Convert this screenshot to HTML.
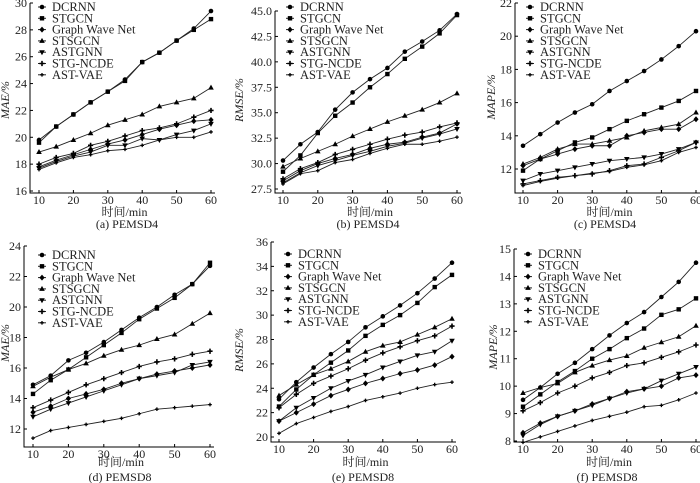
<!DOCTYPE html>
<html><head><meta charset="utf-8"><style>
html,body{margin:0;padding:0;background:#fff}
svg{display:block}
svg text{font-family:"Liberation Serif","Noto Serif CJK SC",serif}
</style></head><body>
<svg id="chart" width="700" height="483" viewBox="0 0 700 483" xmlns="http://www.w3.org/2000/svg"></svg>
<script>
const seriesNames = ["DCRNN","STGCN","Graph Wave Net","STSGCN","ASTGNN","STG-NCDE","AST-VAE"];
const xCategories = [10,15,20,25,30,35,40,45,50,55,60];
const xTicks = [10,20,30,40,50,60];

const aDCRNN=[19.8,20.8,21.7,22.6,23.4,24.3,25.6,26.3,27.2,28.1,29.4];
const aSTGCN=[19.6,20.8,21.7,22.6,23.4,24.2,25.6,26.3,27.2,28.0,28.8];
const aGWN=[17.8,18.3,18.7,19.1,19.5,19.8,20.2,20.6,20.9,21.2,21.3];
const aSTSGCN=[18.9,19.3,19.8,20.3,20.9,21.3,21.7,22.3,22.6,22.9,23.7];
const aASTGNN=[17.7,18.2,18.6,18.9,19.4,19.4,19.9,19.8,20.2,20.5,21.0];
const aNCDE=[18.0,18.5,18.8,19.4,19.7,20.1,20.5,20.7,21.0,21.5,22.0];
const aVAE=[17.6,18.1,18.5,18.7,19.0,19.1,19.4,19.8,20.0,20.0,20.4];
const aTicks=[16,18,20,22,24,26,28,30];

const bDCRNN=[30.3,31.9,33.1,35.3,37.0,38.3,39.4,41.0,42.0,43.1,44.7];
const bSTGCN=[29.2,30.8,33.0,34.7,36.0,37.5,38.8,40.3,41.5,42.8,44.6];
const bGWN=[28.3,29.3,30.0,30.5,30.9,31.5,31.9,32.1,32.6,33.0,33.9];
const bSTSGCN=[29.7,30.5,31.2,31.9,32.7,33.4,34.1,34.7,35.3,36.0,36.9];
const bASTGNN=[28.1,29.1,29.8,30.3,30.8,31.2,31.7,32.0,32.5,32.9,33.4];
const bNCDE=[28.5,29.5,30.1,30.9,31.4,31.9,32.4,32.8,33.1,33.6,34.0];
const bVAE=[28.0,29.0,29.3,30.1,30.4,31.0,31.5,31.9,31.9,32.2,32.6];
const bTicks=["27.5","30.0","32.5","35.0","37.5","40.0","42.5","45.0"];

const cDCRNN=[13.4,14.1,14.8,15.4,15.9,16.7,17.3,17.9,18.6,19.4,20.3];
const cSTGCN=[11.9,12.6,13.1,13.6,13.9,14.4,14.9,15.3,15.7,16.1,16.7];
const cGWN=[12.2,12.6,12.9,13.2,13.4,13.4,14.0,14.2,14.4,14.4,15.0];
const cSTSGCN=[12.3,12.7,13.2,13.5,13.5,13.7,13.9,14.3,14.5,14.7,15.4];
const cASTGNN=[11.3,11.7,11.9,12.1,12.3,12.5,12.6,12.7,12.9,13.2,13.6];
const cNCDE=[11.1,11.3,11.5,11.6,11.7,11.9,12.2,12.3,12.7,13.1,13.6];
const cVAE=[11.0,11.25,11.45,11.6,11.75,11.85,12.1,12.25,12.5,13.0,13.3];
const cTicks=[12,14,16,18,20,22];

const dDCRNN=[14.9,15.5,16.5,17.0,17.7,18.5,19.3,20.0,20.8,21.5,22.7];
const dSTGCN=[14.3,15.2,15.9,16.7,17.5,18.3,19.2,19.9,20.6,21.5,22.9];
const dGWN=[13.1,13.5,14.0,14.3,14.6,15.0,15.3,15.6,15.8,16.0,16.2];
const dSTSGCN=[14.8,15.4,15.9,16.3,16.8,17.2,17.5,17.9,18.2,18.9,19.6];
const dASTGNN=[12.8,13.3,13.7,14.1,14.5,14.9,15.3,15.5,15.7,16.2,16.4];
const dNCDE=[13.4,13.9,14.4,14.9,15.3,15.7,16.1,16.4,16.6,16.9,17.1];
const dVAE=[11.4,11.9,12.1,12.3,12.5,12.7,13.0,13.3,13.4,13.5,13.6];
const dTicks=[12,14,16,18,20,22,24];

const eDCRNN=[23.1,24.5,25.7,26.8,27.8,29.0,29.9,30.8,31.8,33.0,34.3];
const eSTGCN=[22.5,23.9,25.1,26.1,27.1,28.3,29.2,30.0,31.0,32.3,33.3];
const eGWN=[21.3,22.0,22.7,23.4,23.9,24.4,24.8,25.2,25.5,25.9,26.6];
const eSTSGCN=[23.4,24.3,25.1,25.6,26.2,27.0,27.5,27.8,28.4,29.0,29.7];
const eASTGNN=[21.3,22.4,23.2,24.0,24.6,25.1,25.7,26.2,26.7,27.0,27.9];
const eNCDE=[22.4,23.5,24.4,25.0,25.6,26.3,26.9,27.4,27.9,28.3,29.1];
const eVAE=[20.3,21.1,21.6,22.1,22.5,23.0,23.3,23.6,24.0,24.3,24.5];
const eTicks=[20,22,24,26,28,30,32,34,36];

const fDCRNN=[9.5,9.95,10.45,10.85,11.35,11.85,12.3,12.7,13.25,13.8,14.5];
const fSTGCN=[9.25,9.7,10.15,10.55,11.0,11.35,11.75,12.1,12.6,12.8,13.2];
const fGWN=[8.3,8.65,8.9,9.1,9.35,9.55,9.8,9.9,10.0,10.3,10.4];
const fSTSGCN=[9.75,9.95,10.1,10.5,10.75,10.95,11.1,11.4,11.6,11.8,12.2];
const fASTGNN=[8.2,8.6,8.9,9.1,9.3,9.55,9.75,9.9,10.2,10.45,10.7];
const fNCDE=[9.1,9.4,9.75,10.0,10.3,10.5,10.75,10.85,11.05,11.25,11.5];
const fVAE=[7.95,8.15,8.35,8.55,8.75,8.9,9.05,9.25,9.3,9.5,9.75];
const fTicks=[8,9,10,11,12,13,14,15];

const NS="http://www.w3.org/2000/svg";
const FONT='"Liberation Serif","Noto Serif CJK SC",serif';
const svg=document.getElementById('chart');
function mk(tag,attrs,parent){const e=document.createElementNS(NS,tag);for(const k in attrs)e.setAttribute(k,attrs[k]);if(tag==='text')e.setAttribute('font-family',FONT);(parent||svg).appendChild(e);return e;}

const panels=[
 {id:"a",series:[aDCRNN,aSTGCN,aGWN,aSTSGCN,aASTGNN,aNCDE,aVAE],ticks:aTicks,ylab:"MAE/%",cap:"(a) PEMSD4",left:30,bottom:193,x0:39,x1:211,v0:16,p0:191,v1:30,p1:3,legX:42,legY:7,ylx:9,yly:100,capx:127,xty:212,capy:224},
 {id:"b",series:[bDCRNN,bSTGCN,bGWN,bSTSGCN,bASTGNN,bNCDE,bVAE],ticks:bTicks,ylab:"RMSE/%",cap:"(b) PEMSD4",left:275,bottom:193,x0:283,x1:457,v0:27.5,p0:189,v1:45,p1:11,legX:290,legY:7,ylx:243,yly:100,capx:368,xty:212,capy:224},
 {id:"c",series:[cDCRNN,cSTGCN,cGWN,cSTSGCN,cASTGNN,cNCDE,cVAE],ticks:cTicks,ylab:"MAPE/%",cap:"(c) PEMSD4",left:515,bottom:193,x0:523,x1:696,v0:12,p0:169,v1:22,p1:3,legX:530,legY:7,ylx:495,yly:97,capx:605,xty:212,capy:224},
 {id:"d",series:[dDCRNN,dSTGCN,dGWN,dSTSGCN,dASTGNN,dNCDE,dVAE],ticks:dTicks,ylab:"MAE/%",cap:"(d) PEMSD8",left:24,bottom:447,x0:33,x1:210,v0:12,p0:429,v1:24,p1:246,legX:42,legY:255,ylx:9,yly:343,capx:120,xty:462,capy:477},
 {id:"e",series:[eDCRNN,eSTGCN,eGWN,eSTSGCN,eASTGNN,eNCDE,eVAE],ticks:eTicks,ylab:"RMSE/%",cap:"(e) PEMSD8",left:271,bottom:442,x0:279,x1:452,v0:20,p0:437,v1:36,p1:242,legX:288,legY:254,ylx:243,yly:350,capx:363,xty:462,capy:477},
 {id:"f",series:[fDCRNN,fSTGCN,fGWN,fSTSGCN,fASTGNN,fNCDE,fVAE],ticks:fTicks,ylab:"MAPE/%",cap:"(f) PEMSD8",left:514,bottom:442,x0:523,x1:696,v0:8,p0:441,v1:15,p1:249,legX:528,legY:254,ylx:497,yly:347,capx:607,xty:462,capy:477}
];

function marker(g,k,x,y){
  const s=2.6;let e;
  if(k===0)e=mk('circle',{cx:x,cy:y,r:2.3,fill:'#000'},g);
  else if(k===1)e=mk('rect',{x:x-2.2,y:y-2.2,width:4.4,height:4.4,fill:'#000'},g);
  else if(k===2)e=mk('polygon',{points:`${x},${y-3} ${x+2.6},${y} ${x},${y+3} ${x-2.6},${y}`,fill:'#000'},g);
  else if(k===3)e=mk('polygon',{points:`${x},${y-3} ${x+2.8},${y+2} ${x-2.8},${y+2}`,fill:'#000'},g);
  else if(k===4)e=mk('polygon',{points:`${x},${y+3} ${x+2.8},${y-2} ${x-2.8},${y-2}`,fill:'#000'},g);
  else if(k===5)e=mk('path',{d:`M${x-s} ${y}H${x+s}M${x} ${y-s}V${y+s}`,stroke:'#000','stroke-width':1.6,fill:'none'},g);
  else e=mk('path',{d:`M${x-1.8} ${y}H${x+1.8}M${x} ${y-1.8}V${y+1.8}`,stroke:'#000','stroke-width':1.3,fill:'none'},g);
  return e;
}

panels.forEach(P=>{
  const xs=v=>P.x0+(v-10)*(P.x1-P.x0)/50;
  const ys=v=>P.p0+(v-P.v0)*(P.p1-P.p0)/(P.v1-P.v0);
  const g=mk('g',{});
  
  
  const top=ys(parseFloat(P.ticks[P.ticks.length-1]));
  const ax=mk('path',{d:`M${P.left} ${top}V${P.bottom}H${P.x1+4}`,stroke:'#000','stroke-width':1,fill:'none'},g);
  
  
  P.ticks.forEach(t=>{
    const y=ys(parseFloat(t));
    mk('line',{x1:P.left,x2:P.left+3,y1:y,y2:y,stroke:'#000'},g);
    const tx=mk('text',{x:P.left-3,y:y+4,'text-anchor':'end','font-size':12,fill:'#222'},g);
    tx.textContent=t;
    
    
  });
  xTicks.forEach(t=>{
    const x=xs(t);
    mk('line',{x1:x,x2:x,y1:P.bottom,y2:P.bottom-3,stroke:'#000'},g);
    const tx=mk('text',{x:x,y:P.bottom+11,'text-anchor':'middle','font-size':12,fill:'#222'},g);
    tx.textContent=t;
    
    
  });
  const yl=mk('text',{x:P.ylx,y:P.yly,'text-anchor':'middle','font-size':12,'font-style':'italic',fill:'#222',transform:`rotate(-90 ${P.ylx} ${P.yly})`},g);
  yl.textContent=P.ylab;
  
  
  const cx=(P.left+P.x1)/2+4;
  const xl=mk('text',{x:cx,y:P.xty+4,'text-anchor':'middle','font-size':12,fill:'#222'},g);
  xl.textContent="时间/min";
  
  
  const cp=mk('text',{x:P.capx,y:P.capy+4,'text-anchor':'middle','font-size':12,fill:'#222'},g);
  cp.textContent=P.cap;
  
  
  P.series.forEach((arr,k)=>{
    const sg=mk('g',{},g);
    
    
    const d=arr.map((v,i)=>(i?'L':'M')+xs(xCategories[i])+' '+ys(v)).join('');
    mk('path',{d:d,stroke:'#222','stroke-width':0.9,fill:'none'},sg);
    arr.forEach((v,i)=>marker(sg,k,xs(xCategories[i]),ys(v)));
  });
  const lg=mk('g',{},g);
  
  
  seriesNames.forEach((n,k)=>{
    const y=P.legY+k*11.3;
    const eg=mk('g',{},lg);
    
    
    mk('line',{x1:P.legX-4,x2:P.legX+4,y1:y,y2:y,stroke:'#222','stroke-width':1},eg);
    marker(eg,k,P.legX,y);
    const t=mk('text',{x:P.legX+10,y:y+4,'font-size':12.5,fill:'#222'},eg);
    t.textContent=n;
  });
});
</script>
</body></html>
